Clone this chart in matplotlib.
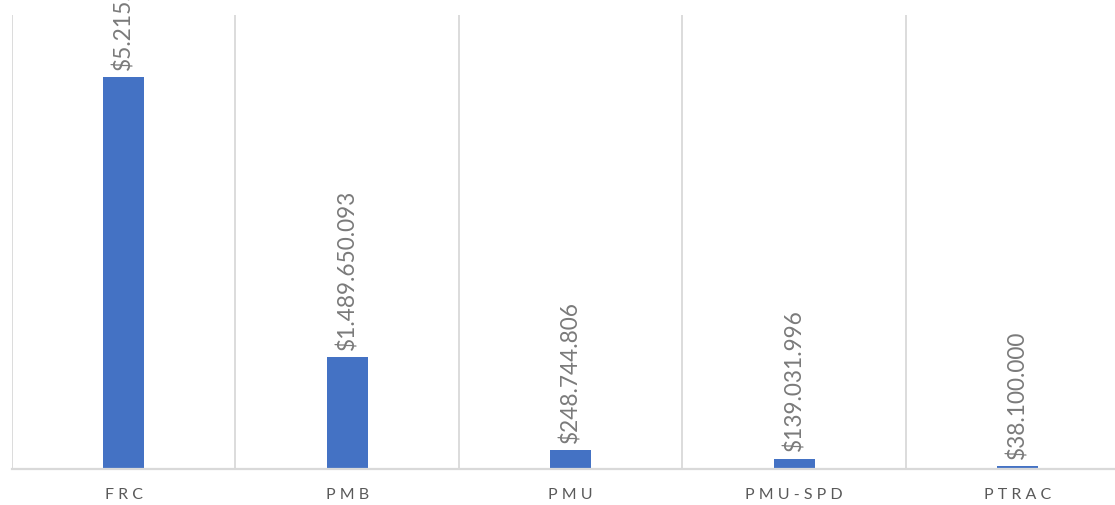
import matplotlib
matplotlib.use("Agg")
import matplotlib.pyplot as plt

categories = ["FRC", "PMB", "PMU", "PMU-SPD", "PTRAC"]
values = [5215000000, 1489650093, 248744806, 139031996, 38100000]

def fmt(v):
    return "$" + f"{v:,}".replace(",", ".")

W, H = 1115, 506
fig = plt.figure(figsize=(W / 100, H / 100), dpi=100)
left, right, top, bottom = 12, 1129.5, 16, 470
ax = fig.add_axes([left / W, (H - bottom) / H, (right - left) / W, (bottom - top) / H])

x = list(range(len(categories)))
ax.bar(x, values, width=0.183, color="#4472C4", zorder=3)
ax.set_xlim(-0.5, len(categories) - 0.5)
ax.set_ylim(0, 6.04e9)

grid_c = "#d9d9d9"
for b in range(len(categories) + 1):
    ax.axvline(b - 0.5, color=grid_c, lw=1.3, zorder=1)
for s in ax.spines.values():
    s.set_visible(False)
ax.axhline(0, color=grid_c, lw=1.6, zorder=4, clip_on=False)

ax.set_yticks([])
ax.set_xticks(x)
ax.set_xticklabels([" ".join(c) for c in categories], family=["Lato", "DejaVu Sans"],
                   fontsize=11.5, color="#595959")
ax.tick_params(axis="x", length=0, pad=13)

for xi, v in zip(x, values):
    ax.annotate(fmt(v), (xi, v), xytext=(0, 6), textcoords="offset points",
                rotation=90, ha="center", va="bottom", fontsize=16.3,
                color="#7a7a7a", family=["Lato", "DejaVu Sans"], annotation_clip=False)

fig.savefig("out.png", dpi=100)
